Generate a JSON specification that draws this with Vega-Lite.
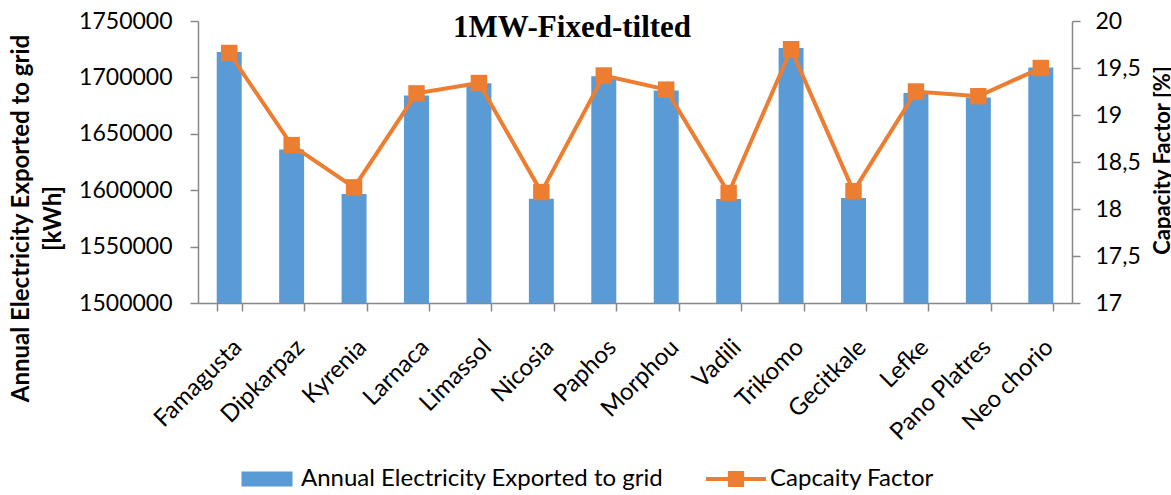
{
  "$schema": "https://vega.github.io/schema/vega-lite/v6.json",
  "width": 874,
  "height": 282,
  "autosize": {"type": "none"},
  "padding": {"left": 198, "top": 21, "right": 99, "bottom": 192},
  "background": "white",
  "config": {
    "view": {"stroke": null},
    "font": "Lato",
    "axis": {"domainColor": "#888888", "tickColor": "#888888", "grid": false, "labelColor": "#000000", "titleColor": "#000000", "labelFont": "Lato", "titleFont": "Lato"}
  },
  "title": {
    "text": "1MW-Fixed-tilted",
    "font": "Liberation Serif",
    "fontSize": 31,
    "fontWeight": "bold",
    "color": "#000000",
    "anchor": "middle",
    "frame": "group",
    "baseline": "alphabetic",
    "offset": -18,
    "dx": -63,
    "dy": 40
  },
  "data": {
    "values": [
      {"site": "Famagusta", "energy": 1722500, "cf": 19.66},
      {"site": "Dipkarpaz", "energy": 1636000, "cf": 18.68},
      {"site": "Kyrenia", "energy": 1596600, "cf": 18.23},
      {"site": "Larnaca", "energy": 1683900, "cf": 19.23},
      {"site": "Limassol", "energy": 1694800, "cf": 19.34},
      {"site": "Nicosia", "energy": 1592500, "cf": 18.18},
      {"site": "Paphos", "energy": 1701000, "cf": 19.42},
      {"site": "Morphou", "energy": 1688300, "cf": 19.27},
      {"site": "Vadili", "energy": 1592200, "cf": 18.17},
      {"site": "Trikomo", "energy": 1726000, "cf": 19.70},
      {"site": "Gecitkale", "energy": 1593100, "cf": 18.19},
      {"site": "Lefke", "energy": 1686200, "cf": 19.25},
      {"site": "Pano Platres", "energy": 1682100, "cf": 19.20},
      {"site": "Neo chorio", "energy": 1708700, "cf": 19.50}
    ]
  },
  "encoding": {
    "x": {
      "field": "site",
      "type": "nominal",
      "sort": null,
      "scale": {"paddingInner": 0.6, "paddingOuter": 0.3},
      "axis": {
        "title": null,
        "labelAngle": -45,
        "labelAlign": "right",
        "labelBaseline": "top",
        "labelFontSize": 24,
        "labelPadding": 24,
        "tickSize": 8,
        "tickBand": "extent",
        "domainWidth": 1.5,
        "tickWidth": 1.5
      }
    }
  },
  "layer": [
    {
      "mark": {"type": "bar"},
      "encoding": {
        "y": {
          "field": "energy",
          "type": "quantitative",
          "scale": {"domain": [1500000, 1750000], "zero": false, "nice": false},
          "axis": {
            "title": ["Annual Electricity Exported to grid", "[kWh]"],
            "titleFontSize": 24,
            "titleFontWeight": "bold",
            "titleAngle": -90,
            "titleBaseline": "top",
            "titleAlign": "center",
            "titleX": -189,
            "titleY": 197,
            "titleLineHeight": 32,
            "values": [1500000, 1550000, 1600000, 1650000, 1700000, 1750000],
            "format": "d",
            "labelFontSize": 23,
            "labelPadding": 18,
            "tickSize": 8,
            "domainWidth": 1.5,
            "tickWidth": 1.5
          }
        },
        "y2": {"datum": 1500000},
        "color": {
          "datum": "Annual Electricity Exported to grid",
          "type": "nominal",
          "scale": {"domain": ["Annual Electricity Exported to grid", "Capcaity Factor"], "range": ["#5B9BD5", "#ED7D31"]},
          "legend": {
            "orient": "none",
            "direction": "horizontal",
            "legendX": 39,
            "legendY": 428,
            "title": null,
            "labelFontSize": 24,
            "labelFont": "Lato",
            "labelColor": "#000000",
            "labelLimit": 600,
            "labelOffset": 4,
            "columnPadding": 42,
            "symbolSize": 3600,
            "symbolStrokeWidth": 0,
            "encode": {
              "symbols": {
                "update": {
                  "shape": [
                    {"test": "datum.value === 'Capcaity Factor'", "value": "M-1,-0.07H1V0.07H-1Z M-0.27,-0.27H0.27V0.27H-0.27Z"},
                    {"value": "M-0.85,-0.25H0.85V0.25H-0.85Z"}
                  ],
                  "fill": [
                    {"test": "datum.value === 'Capcaity Factor'", "value": "#ED7D31"},
                    {"value": "#5B9BD5"}
                  ],
                  "fillOpacity": {"value": 1},
                  "strokeWidth": {"value": 0}
                }
              }
            }
          }
        }
      }
    },
    {
      "mark": {"type": "line", "strokeWidth": 4, "point": {"shape": "square", "size": 270, "filled": true, "opacity": 1}},
      "encoding": {
        "y": {
          "field": "cf",
          "type": "quantitative",
          "scale": {"domain": [17, 20], "zero": false, "nice": false},
          "axis": {
            "orient": "right",
            "title": "Capacity Factor [%]",
            "titleFontSize": 22,
            "titleFontWeight": "bold",
            "titleAngle": -90,
            "titleBaseline": "top",
            "titleAlign": "center",
            "titleX": 80,
            "titleY": 139,
            "values": [17, 17.5, 18, 18.5, 19, 19.5, 20],
            "labelExpr": "replace(toString(datum.value), '.', ',')",
            "labelFontSize": 23,
            "labelPadding": 15,
            "tickSize": 8,
            "domainWidth": 1.5,
            "tickWidth": 1.5
          }
        },
        "color": {"datum": "Capcaity Factor", "type": "nominal"}
      }
    }
  ],
  "resolve": {"scale": {"y": "independent"}}
}
